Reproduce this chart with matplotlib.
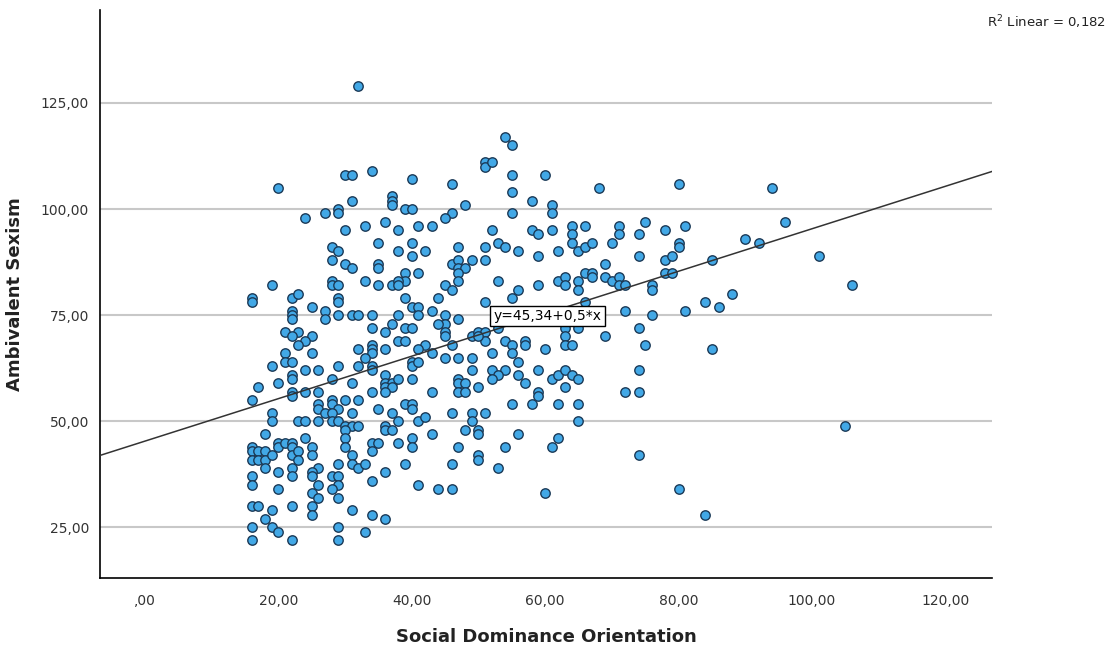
import matplotlib
matplotlib.use("Agg")
import matplotlib.pyplot as plt
from matplotlib.ticker import FuncFormatter

# (SDO, ASI) pairs
pontos = [
    (32,129),(20,105),(30,108),(31,108),(34,109),(31,102),(37,103),(37,102),(37,101),(24,98),(27,99),(29,100),(29,99),(30,95),(33,96),(36,97),
    (54,117),(55,115),(51,111),(51,110),(52,111),(40,107),(46,106),(55,108),(60,108),(55,104),(58,102),(39,100),(40,100),(48,101),(46,99),(45,98),(55,99),(61,101),(61,99),(38,95),(41,96),(43,96),(52,95),(58,95),(59,94),(61,95),
    (68,105),(80,106),(94,105),(64,96),(66,96),(71,96),(71,94),(75,97),(78,95),(81,96),(96,97),(74,94),(64,94),(90,93),
    (28,91),(29,90),(35,92),(28,88),(30,87),(31,86),(35,87),(35,86),(19,82),(28,83),(28,82),(29,82),(33,83),(35,82),(37,82),(16,79),(16,78),(22,79),(23,80),(29,79),(29,78),(25,77),(22,76),(22,75),(22,74),(27,76),(27,74),(29,75),(31,75),(32,75),(34,75),(37,73),(34,72),(21,71),(23,71),(22,70),(25,70),(24,69),(23,68),(36,71),(34,68),(34,67),(32,67),(36,67),(21,66),(25,66),(34,66),(33,65),(21,64),(22,64),(19,63),(29,63),(32,63),(34,63),(34,62),(24,62),(26,62),(22,61),(22,60),(28,60),(36,61),(36,59),(20,59),(31,59),(37,59),(36,58),(37,58),(17,58),(22,57),(24,57),(26,57),(34,57),(36,57),
    (38,90),(40,92),(40,89),(42,90),(47,91),(51,91),(53,92),(54,91),(56,90),(59,89),(46,87),(47,88),(47,86),(48,86),(49,88),(51,88),(39,85),(39,83),(38,83),(38,82),(41,85),(47,85),(47,83),(45,82),(46,81),(53,83),(56,81),(59,82),(39,79),(44,79),(55,79),(51,78),(40,77),(41,77),(41,75),(43,76),(45,75),(45,73),(38,75),(47,74),(44,73),(39,72),(40,72),(45,71),(45,70),(49,70),(50,71),(51,71),(51,69),(50,70),(53,72),(38,69),(39,69),(42,68),(41,67),(46,68),(54,69),(55,68),(57,69),(57,68),(60,67),(43,66),(52,66),(55,66),(45,65),(47,65),(49,65),(40,64),(40,63),(41,64),(56,64),(49,62),(52,62),(54,62),(53,61),(59,62),(38,60),(40,60),(47,60),(47,59),(48,59),(52,60),(56,61),(57,59),(61,60),(43,57),(47,57),(48,57),(50,58),(59,57),
    (64,92),(65,90),(66,91),(67,92),(62,90),(70,92),(80,92),(80,91),(74,89),(78,88),(79,89),(85,88),(69,87),(66,85),(67,85),(67,84),(62,83),(63,84),(63,82),(65,83),(65,81),(69,84),(70,83),(71,84),(71,82),(72,82),(78,85),(79,85),(76,82),(76,81),(66,78),(84,78),(72,76),(76,75),(81,76),(63,73),(63,72),(65,72),(74,72),(63,70),(63,68),(64,68),(69,70),(75,68),(85,67),(74,62),(62,61),(63,62),(64,61),(65,60),(63,58),(72,57),(74,57),
    (16,55),(22,56),(26,54),(26,53),(27,52),(28,55),(28,54),(29,53),(28,52),(30,55),(32,55),(31,52),(35,53),(37,52),(19,52),(19,50),(23,50),(24,50),(26,50),(28,50),(29,50),(30,49),(31,49),(32,49),(30,48),(36,49),(36,48),(37,48),(18,47),(24,46),(30,46),(30,44),(20,45),(20,44),(21,45),(22,45),(22,44),(25,44),(25,42),(34,45),(35,45),(34,43),(16,44),(16,43),(16,41),(17,43),(17,41),(18,43),(18,41),(19,42),(22,42),(23,43),(23,41),(31,42),(31,40),(32,39),(33,40),(29,40),(18,39),(22,39),(22,37),(20,38),(26,39),(25,38),(25,37),(36,38),(16,37),(16,35),(28,37),(29,37),(29,35),(28,34),(26,35),(34,36),(20,34),(25,33),(26,32),(29,32),(16,30),(17,30),(22,30),(19,29),(18,27),(25,30),(25,28),(31,29),(34,28),(36,27),(16,25),(16,22),(19,25),(20,24),(29,25),(29,22),(33,24),(22,22),
    (39,54),(40,54),(40,53),(46,52),(49,52),(51,52),(49,50),(55,54),(58,54),(59,56),(38,50),(41,50),(42,51),(48,48),(50,48),(50,47),(43,47),(56,47),(38,45),(40,46),(40,44),(47,44),(54,44),(61,44),(50,42),(50,41),(39,40),(46,40),(53,39),(41,35),(44,34),(46,34),(60,33),
    (62,54),(65,54),(65,50),(62,46),(74,42),(80,34),(84,28),(105,49),
    (92,92),(101,89),(106,82),(88,80),(86,77),
]
sdo = [p[0] for p in pontos]
asi = [p[1] for p in pontos]

intercepto = 45.34
inclinacao = 0.5
r2 = "0,182"
x_ticks = [0, 20, 40, 60, 80, 100, 120]
y_ticks = [25, 50, 75, 100, 125]


def virgula(v, pos):
    s = f"{v:.2f}".replace(".", ",")
    if s.startswith("0,"):
        s = s[1:]
    return s


fig = plt.figure(figsize=(11.12, 6.46), dpi=100)
ax = fig.add_axes([0.09, 0.106, 0.802, 0.878])

ax.set_xlim(-6.75, 127.0)
ax.set_ylim(13.2, 146.8)

ax.yaxis.grid(True, color="#c8c8c8", linewidth=1.5)
ax.set_axisbelow(True)

ax.scatter(sdo, asi, s=46, facecolor="#42a8e6", edgecolor="#1b3a57", linewidths=1.0, zorder=3)

xl = ax.get_xlim()
ax.plot(xl, [intercepto + inclinacao * v for v in xl], color="#333333", linewidth=1.1, zorder=4)

ax.text(60.3, 74.8, "y=45,34+0,5*x", fontsize=10, ha="center", va="center", zorder=5,
        bbox=dict(boxstyle="square,pad=0.25", facecolor="white", edgecolor="black", linewidth=1))

fig.text(0.888, 0.966, "R$^2$ Linear = " + r2, fontsize=9.5, color="#222222", ha="left", va="center")

ax.set_xticks(x_ticks)
ax.set_yticks(y_ticks)
ax.xaxis.set_major_formatter(FuncFormatter(virgula))
ax.yaxis.set_major_formatter(FuncFormatter(virgula))
ax.tick_params(axis="both", length=0, labelsize=10, labelcolor="#333333")
ax.tick_params(axis="x", pad=12)
ax.tick_params(axis="y", pad=8)

ax.spines["top"].set_visible(False)
ax.spines["right"].set_visible(False)
ax.spines["left"].set_linewidth(1.2)
ax.spines["bottom"].set_linewidth(1.2)

ax.set_xlabel("Social Dominance Orientation", fontsize=13, fontweight="bold", labelpad=14, color="#222222")
ax.set_ylabel("Ambivalent Sexism", fontsize=13, fontweight="bold", labelpad=12, color="#222222")

fig.savefig("out.png", dpi=100)
